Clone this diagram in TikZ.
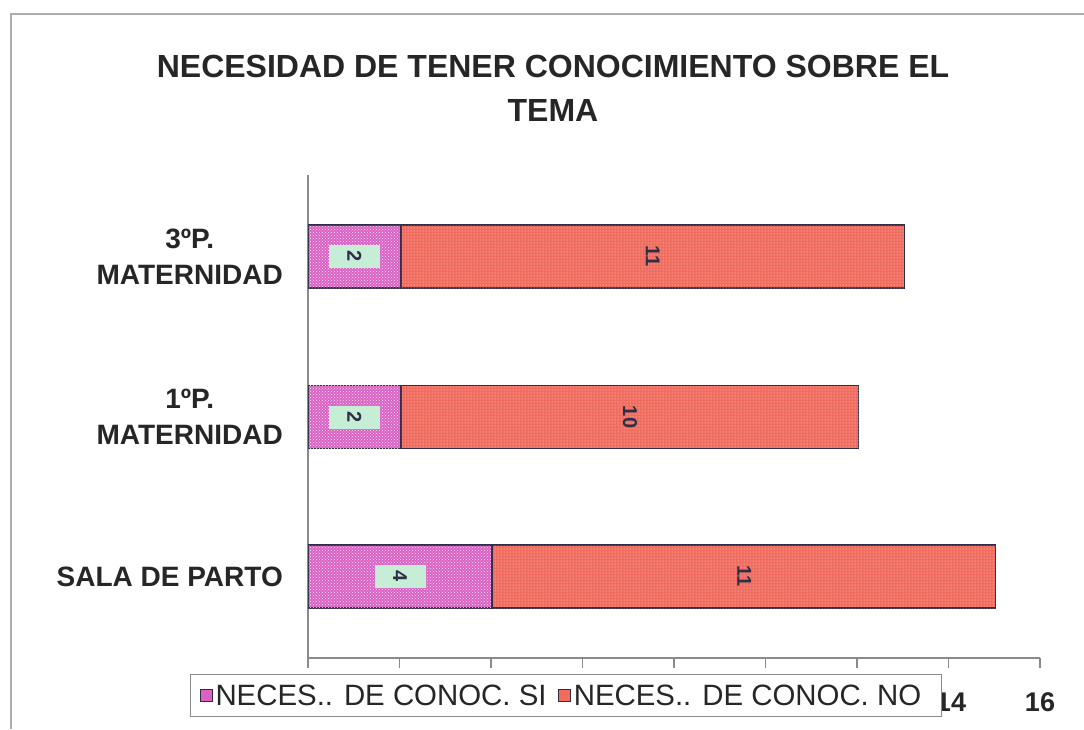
\documentclass[tikz,border=0pt]{standalone}
\usepackage{fontspec}
\setmainfont{Liberation Sans}
\usepackage{tikz}
\usetikzlibrary{positioning,patterns}
\definecolor{sipink}{HTML}{DA62C4}
\definecolor{nosalmon}{HTML}{F06C5E}
\definecolor{labelmint}{HTML}{C6EED6}
\definecolor{barline}{HTML}{2E2E46}
\definecolor{axisgray}{HTML}{8A8A8A}
\newcommand{\unitw}{45.75}

\begin{document}
\begin{tikzpicture}[x=1pt,y=-1pt,
    sibar/.style={draw=barline, line width=1.1pt, fill=sipink, inner sep=0pt,
        minimum height=63pt, anchor=west,
        postaction={pattern=crosshatch dots, pattern color=white!85!sipink}},
    nobar/.style={draw=barline, line width=1.1pt, fill=nosalmon, inner sep=0pt,
        minimum height=63pt, anchor=west,
        postaction={pattern=dots, pattern color=white!80!nosalmon}},
    silabel/.style={rotate=-90, fill=labelmint, text=barline, inner sep=0pt,
        minimum width=23pt, minimum height=51pt, font=\fontsize{20}{20}\selectfont\bfseries},
    nolabel/.style={rotate=-90, text=barline, inner sep=0pt,
        font=\fontsize{20}{20}\selectfont\bfseries},
    catlabel/.style={anchor=east, align=center, inner sep=0pt, text=black!85,
        font=\fontsize{28}{36}\selectfont\bfseries},
    ticklabel/.style={inner sep=0pt, text=black!85, font=\fontsize{27}{27}\selectfont\bfseries},
    legendtext/.style={inner sep=0pt, anchor=west, text=black!85,
        font=\fontsize{29.4}{30}\selectfont},
    axisline/.style={draw=axisgray, line width=1.2pt}]

\useasboundingbox (0,0) rectangle (1084,729);
\fill[white] (0,0) rectangle (1084,729);
\draw[axisgray!70, line width=1.2pt] (1084,14) -- (11,14) -- (11,729);

% title
\node[align=center, inner sep=0pt, text=black!85,
      font=\fontsize{32}{44}\selectfont\bfseries] (title) at (553,88)
    {NECESIDAD DE TENER CONOCIMIENTO SOBRE EL\\TEMA};

% axes
\coordinate (origin) at (308,658);
\coordinate (ytop) at (308,175);
\coordinate (xend) at (1040,658);
\draw[axisline] (ytop) -- (origin) -- (xend);
\foreach \k in {0,...,8}
    \draw[axisline] (308+\k*91.5,658) -- ++(0,10);

% bars
\foreach \yc/\si/\no/\cat [count=\i] in {256.5/2/11/{3ºP.\\MATERNIDAD},
        417/2/10/{1ºP.\\MATERNIDAD}, 576.5/4/11/{SALA DE PARTO}} {
    \node[sibar, minimum width=\si*\unitw pt] (si\i) at (308,\yc) {};
    \node[nobar, minimum width=\no*\unitw pt] (no\i) at (si\i.east) {};
    \node[silabel] (sival\i) at (si\i.center) {\si};
    \node[nolabel] (noval\i) at (no\i.center) {\no};
    \node[catlabel] (cat\i) at (283,\yc) {\cat};
}

% tick labels left of the legend
\node[ticklabel] (t14) at (951,702) {14};
\node[ticklabel] (t16) at (1040,702) {16};

% legend
\node[draw=axisgray, fill=white, line width=1pt, minimum width=751pt,
      minimum height=42pt, inner sep=0pt] (legend) at (565.5,695) {};
\node[fill=sipink, draw=barline, line width=0.8pt, minimum size=12pt,
      inner sep=0pt, anchor=west] (simark) at ([xshift=10pt]legend.west) {};
\node[legendtext, right=3pt of simark] (sitext) {NECES.. DE CONOC. SI};
\node[fill=nosalmon, draw=barline, line width=0.8pt, minimum size=12pt,
      inner sep=0pt, right=11pt of sitext] (nomark) {};
\node[legendtext, right=3pt of nomark] (notext) {NECES.. DE CONOC. NO};
\end{tikzpicture}
\end{document}
